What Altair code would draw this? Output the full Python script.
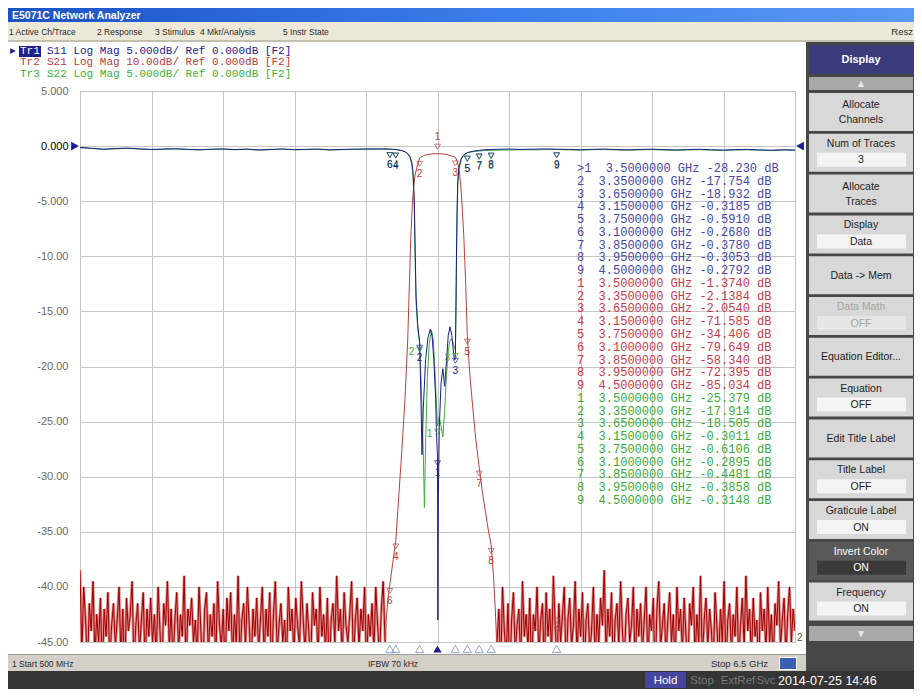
import altair as alt
import numpy as np
import pandas as pd

# plot area origin (screen px) and size
OX, OY = 80, 91
W, H = 715, 551
F_START, F_STOP = 0.5, 6.5          # GHz
Y_MIN, Y_MAX = -45, 5               # display scale (5 dB/div, ref 0 dB)

# ---------------- trace data ----------------
flat_left_f = [0.5, 0.6, 0.7, 0.8, 0.9, 1.0, 1.1, 1.2, 1.3, 1.4, 1.5, 1.6, 1.7,
               1.8, 1.9, 2.0, 2.1, 2.2, 2.3, 2.4, 2.5, 2.6, 2.7, 2.8, 2.9, 3.0]
flat_right_f = [4.0, 4.1, 4.2, 4.3, 4.4, 4.5, 4.6, 4.7, 4.8, 4.9, 5.0, 5.1, 5.2,
                5.3, 5.4, 5.5, 5.6, 5.7, 5.8, 5.9, 6.0, 6.1, 6.2, 6.3, 6.4, 6.5]

# S11 (dB)
s11_left = [-0.12, -0.20, -0.28, -0.22, -0.18, -0.25, -0.30, -0.27, -0.24, -0.29, -0.33, -0.28, -0.26,
            -0.31, -0.27, -0.35, -0.30, -0.26, -0.32, -0.29, -0.27, -0.34, -0.30, -0.28, -0.26, -0.25]
s11_band_f = [3.05, 3.1, 3.15, 3.2, 3.23, 3.25, 3.27, 3.285, 3.295, 3.305, 3.31, 3.315,
              3.32, 3.335, 3.35, 3.36, 3.37, 3.38, 3.40, 3.42, 3.44, 3.455, 3.47, 3.485,
              3.49, 3.497, 3.5, 3.503, 3.507, 3.515, 3.53, 3.545, 3.56, 3.575, 3.59, 3.605,
              3.62, 3.635, 3.645, 3.65, 3.655, 3.66, 3.665, 3.67, 3.68, 3.70, 3.72, 3.75,
              3.80, 3.85, 3.90, 3.95]
s11_band = [-0.26, -0.268, -0.3185, -0.40, -0.52, -0.68, -0.98, -1.5, -2.4, -4.8, -7.8, -10.8,
            -13.6, -16.4, -17.754, -22.5, -28.0, -24.0, -19.4, -17.4, -16.6, -17.3, -19.6, -23.0,
            -25.5, -27.5, -28.23, -43.0, -32.0, -25.5, -21.5, -20.2, -21.8, -19.6, -17.2, -16.4,
            -17.2, -18.8, -19.4, -18.932, -14.5, -9.0, -5.5, -3.2, -1.9, -1.1, -0.8, -0.591,
            -0.46, -0.378, -0.33, -0.3053]
s11_right = [-0.29, -0.27, -0.30, -0.28, -0.26, -0.2792, -0.30, -0.33, -0.29, -0.27, -0.31, -0.34, -0.30,
             -0.28, -0.32, -0.35, -0.31, -0.29, -0.33, -0.36, -0.32, -0.30, -0.34, -0.37, -0.33, -0.35]

# S22 (dB)
s22_left = [-0.15, -0.22, -0.30, -0.25, -0.21, -0.27, -0.32, -0.29, -0.26, -0.31, -0.35, -0.30, -0.28,
            -0.33, -0.29, -0.37, -0.32, -0.28, -0.34, -0.31, -0.29, -0.36, -0.32, -0.30, -0.29, -0.28]
s22_band_f = [3.05, 3.1, 3.15, 3.2, 3.23, 3.25, 3.27, 3.285, 3.295, 3.305, 3.31, 3.315,
              3.32, 3.335, 3.35, 3.365, 3.38, 3.39, 3.40, 3.415, 3.43, 3.45, 3.465, 3.48,
              3.495, 3.5, 3.515, 3.53, 3.545, 3.56, 3.575, 3.59, 3.605, 3.62, 3.635, 3.65,
              3.655, 3.66, 3.665, 3.67, 3.68, 3.70, 3.72, 3.75, 3.80, 3.85, 3.90, 3.95]
s22_band = [-0.28, -0.2895, -0.3011, -0.42, -0.55, -0.72, -1.05, -1.7, -2.8, -5.5, -8.6, -11.6,
            -14.2, -16.6, -17.914, -22.0, -27.5, -32.8, -27.0, -21.0, -18.0, -16.7, -17.6, -20.6,
            -24.3, -25.379, -24.6, -25.4, -26.4, -24.0, -20.8, -18.6, -17.6, -17.5, -18.0, -18.505,
            -14.8, -9.6, -6.0, -3.6, -2.1, -1.2, -0.85, -0.6106, -0.50, -0.4481, -0.40, -0.3858]
s22_right = [-0.37, -0.35, -0.33, -0.34, -0.32, -0.3148, -0.34, -0.37, -0.33, -0.31, -0.35, -0.38, -0.34,
             -0.32, -0.36, -0.39, -0.35, -0.33, -0.37, -0.40, -0.36, -0.34, -0.38, -0.41, -0.37, -0.39]

# S21 (dB, 10 dB/div)
s21_band_f = [3.06, 3.07, 3.085, 3.1, 3.125, 3.15, 3.175, 3.2, 3.227, 3.25, 3.265, 3.275,
              3.29, 3.30, 3.31, 3.327, 3.35, 3.38, 3.42, 3.46, 3.5, 3.54, 3.58, 3.62,
              3.65, 3.665, 3.683, 3.70, 3.72, 3.735, 3.75, 3.77, 3.79, 3.82, 3.85, 3.875,
              3.90, 3.925, 3.95, 3.97, 3.985, 4.0]
s21_band = [-92, -86, -82, -79.649, -75.5, -71.585, -63.5, -55.5, -46, -35.2, -24.5, -17,
            -10, -7.5, -5.5, -3.8, -2.1384, -1.75, -1.5, -1.4, -1.374, -1.42, -1.55, -1.8,
            -2.054, -2.7, -4.4, -8.5, -16, -24, -34.406, -41, -46, -53, -58.34, -62.5,
            -66, -69.5, -72.395, -78, -84, -92]
s21_noise_left = [
    -77, -92, -80, -86, -95, -83, -88, -79, -93, -85, -90, -82, -96, -84, -89, -81, -94, -87, -83, -91,
    -86, -80, -93, -84, -97, -82, -88, -85, -79, -94, -87, -83, -92, -86, -81, -95, -84, -89, -82, -90,
    -85, -93, -80, -88, -96, -83, -87, -79, -91, -84, -94, -86, -81, -92, -85, -89, -78, -95, -84, -87,
    -82, -90, -86, -93, -80, -88, -97, -84, -81, -92, -85, -89, -83, -94, -79, -87, -91, -84, -96, -82,
    -88, -81, -93, -85, -90, -78, -94, -86, -83, -91, -80, -87, -95, -84, -89, -82, -92, -86, -80, -93,
    -84, -89, -81, -96, -85, -79, -92, -87, -83, -90, -86, -94, -80, -88, -84, -93, -82, -87, -91, -79,
    -86, -92, -83, -88, -95, -81, -87, -84, -93, -80, -89, -85, -92, -82, -97, -86, -83, -90, -78, -88,
    -84, -93, -81, -87, -90, -85, -79, -94, -86, -82, -91, -84, -88, -80, -95, -85, -89, -83, -92, -80,
    -87, -93, -84, -79, -90]
s21_noise_right = [
    -90, -84, -95, -80, -88, -93, -83, -97, -86, -81, -92, -87, -84, -94, -79, -89, -85, -91, -82, -96,
    -85, -88, -80, -93, -86, -83, -95, -81, -89, -84, -92, -78, -87, -94, -83, -90, -85, -80, -96, -86,
    -82, -91, -87, -79, -93, -84, -89, -81, -95, -86, -83, -92, -88, -80, -94, -85, -90, -82, -87, -77,
    -93, -84, -89, -81, -96, -86, -83, -91, -79, -88, -94, -85, -82, -90, -87, -80, -95, -84, -89, -83,
    -92, -86, -80, -94, -85, -88, -82, -97, -84, -79, -91, -87, -83, -93, -86, -81, -90, -85, -95, -80,
    -88, -84, -92, -82, -89, -96, -83, -87, -80, -93, -85, -90, -78, -94, -86, -82, -91, -84, -88, -95,
    -81, -87, -93, -84, -90, -79, -95, -86, -83, -92, -85, -89, -80, -94, -87, -82, -91, -78, -88, -84,
    -93, -82, -89, -86, -96, -81, -88, -84, -92, -80, -90, -85, -94, -83, -87, -79, -91, -86, -82, -93,
    -85, -80, -90, -84, -88]
noise_left_f = np.linspace(0.5, 3.06, len(s21_noise_left))
noise_right_f = np.linspace(4.0, 6.5, len(s21_noise_right))

# markers
mk_n = [1, 2, 3, 4, 5, 6, 7, 8, 9]
mk_f = [3.5, 3.35, 3.65, 3.15, 3.75, 3.1, 3.85, 3.95, 4.5]
mk_s11 = ["-28.230", "-17.754", "-18.932", "-0.3185", "-0.5910", "-0.2680", "-0.3780", "-0.3053", "-0.2792"]
mk_s21 = ["-1.3740", "-2.1384", "-2.0540", "-71.585", "-34.406", "-79.649", "-58.340", "-72.395", "-85.034"]
mk_s22 = ["-25.379", "-17.914", "-18.505", "-0.3011", "-0.6106", "-0.2895", "-0.4481", "-0.3858", "-0.3148"]

C_S11, C_S21, C_S22 = "#1c1c8e", "#b84040", "#3caf3c"
C_S11_T, C_S21_T, C_S22_T = "#4646a6", "#c63a4c", "#3aaa3a"

legend_tr = ["Tr1", "Tr2", "Tr3"]
legend_rest = ["S11 Log Mag 5.000dB/ Ref 0.000dB [F2]",
               "S21 Log Mag 10.00dB/ Ref 0.000dB [F2]",
               "S22 Log Mag 5.000dB/ Ref 0.000dB [F2]"]
menu_items = ["1 Active Ch/Trace", "2 Response", "3 Stimulus", "4 Mkr/Analysis", "5 Instr State"]
softkeys = [("Allocate|Channels", None), ("Num of Traces", "3"), ("Allocate|Traces", None),
            ("Display", "Data"), ("Data -> Mem", None), ("Data Math", "OFF"),
            ("Equation Editor...", None), ("Equation", "OFF"), ("Edit Title Label", None),
            ("Title Label", "OFF"), ("Graticule Label", "ON"), ("Invert Color", "ON"),
            ("Frequency", "ON")]

NB = "\u00a0"

# ---------------- scales / axes ----------------
grid_x = [round(F_START + 0.6 * k, 2) for k in range(11)]
xs = alt.Scale(domain=[F_START, F_STOP], nice=False, zero=False)
ys = alt.Scale(domain=[Y_MIN, Y_MAX], nice=False, zero=False)
xax = alt.Axis(values=grid_x, grid=True, labels=False, ticks=False, domain=False, title=None)
yax = alt.Axis(values=list(range(-45, 6, 5)), grid=True, ticks=False, domain=False, title=None,
               labelPadding=12, labelFont="Liberation Sans", labelFontSize=11,
               labelExpr="(datum.value < 0 ? '-' : '') + (abs(datum.value) < 10 ? format(abs(datum.value), '.3f') : format(abs(datum.value), '.2f'))",
               labelColor=alt.condition("datum.value == 0", alt.value("#000000"), alt.value("#6a6a6a")))


def X():
    return alt.X("f:Q", scale=xs, axis=xax)


def Y():
    return alt.Y("v:Q", scale=ys, axis=yax)


def px_rects(rows):
    df = pd.DataFrame(rows, columns=["x0", "x1", "y0", "y1", "fill"])
    df["x0"] = df["x0"] - OX
    df["x1"] = df["x1"] - OX
    df["y0"] = df["y0"] - OY
    df["y1"] = df["y1"] - OY
    return alt.Chart(df).mark_rect().encode(
        x=alt.X("x0:Q", scale=None), x2=alt.X2("x1"),
        y=alt.Y("y0:Q", scale=None), y2=alt.Y2("y1"),
        color=alt.Color("fill:N", scale=None))


def px_text(rows, size, font="Liberation Sans", weight="normal", align="left"):
    df = pd.DataFrame(rows, columns=["x", "y", "t", "c"])
    df["x"] = df["x"] - OX
    df["y"] = df["y"] - OY
    return alt.Chart(df).mark_text(font=font, fontSize=size, fontWeight=weight, align=align,
                                   baseline="middle").encode(
        x=alt.X("x:Q", scale=None), y=alt.Y("y:Q", scale=None),
        text=alt.Text("t:N"), color=alt.Color("c:N", scale=None))


# ---------------- window chrome ----------------
title_df = pd.DataFrame([{"x0": 8 - OX, "x1": 914 - OX, "y0": 8 - OY, "y1": 22 - OY}])
title_bar = alt.Chart(title_df).mark_rect(
    color=alt.LinearGradient(gradient="linear", x1=0, x2=1, y1=0, y2=0,
                             stops=[alt.GradientStop(color="#1b53c4", offset=0),
                                    alt.GradientStop(color="#3f82ee", offset=0.6),
                                    alt.GradientStop(color="#5a98f4", offset=1)])
).encode(x=alt.X("x0:Q", scale=None), x2=alt.X2("x1"),
         y=alt.Y("y0:Q", scale=None), y2=alt.Y2("y1"))

rects = [
    (8, 914, 22, 40, "#ece9d8"),
    (8, 914, 40, 42, "#c4c0b0"),
    (806, 914, 42, 671, "#474747"),
    (809, 913, 45, 74, "#3b3b7c"),
    (809, 913, 77, 90, "#a8a8a8"),
    (809, 913, 626, 641, "#a8a8a8"),
    (8, 806, 654, 655, "#9c9c9c"),
    (8, 806, 655, 671, "#d4d0c8"),
    (779, 797, 657, 670, "#ffffff"),
    (780, 796, 658, 669, "#3a5fb0"),
    (8, 914, 671, 689, "#353535"),
    (645, 686, 672, 688, "#46469e"),
    (19, 41, 46, 57, "#1e1e8c"),
]
ui_center = [(861, 59.5, "Display", "#ffffff")]
ui_center_small = [(861, 83.5, "\u25b2", "#e6e6e6"), (861, 633.5, "\u25bc", "#e6e6e6")]
for i, (lab, val) in enumerate(softkeys):
    y0 = 93 + i * 40.8
    inv = lab == "Invert Color"
    dis = lab == "Data Math"
    rects.append((809, 913, y0, y0 + 38, "#595959" if inv else "#d8d8d8"))
    tc = "#ffffff" if inv else ("#a4a4a4" if dis else "#1e1e1e")
    if val is not None:
        rects.append((817, 906, y0 + 19, y0 + 33, "#3a3a3a" if inv else ("#e6e6e6" if dis else "#f4f4f4")))
        ui_center_small.append((861, y0 + 10, lab, tc))
        ui_center_small.append((861, y0 + 26.5, val, tc))
    elif "|" in lab:
        a, b = lab.split("|")
        ui_center_small.append((861, y0 + 12, a, tc))
        ui_center_small.append((861, y0 + 27, b, tc))
    else:
        ui_center_small.append((861, y0 + 19.5, lab, tc))

menu_x = [9, 97, 155, 200, 283]
ui_left = [(mx, 31.5, m, "#2a2a2a") for mx, m in zip(menu_x, menu_items)]
ui_left += [(12, 663.5, "1 Start 500 MHz", "#2a2a2a"), (368, 663.5, "IFBW 70 kHz", "#2a2a2a")]
ui_right = [(913, 31.5, "Resz", "#2a2a2a"), (768, 663.5, "Stop 6.5 GHz", "#2a2a2a")]
bottom_c = [(665.5, 680.5, "Hold", "#ffffff"), (702, 680.5, "Stop", "#7a7a7a"),
            (738, 680.5, "ExtRef", "#7a7a7a"), (766, 680.5, "Svc", "#7a7a7a")]
bottom_l = [(778, 680.5, "2014-07-25 14:46", "#ffffff")]

# legend (monospace)
leg_y = [51.0, 62.3, 73.6]
leg_cols = [C_S11, C_S21, C_S22]
mono_leg = []
for k in range(3):
    mono_leg.append((20, leg_y[k], legend_tr[k], "#ffffff" if k == 0 else leg_cols[k]))
    mono_leg.append((47, leg_y[k], legend_rest[k].replace(" ", NB), leg_cols[k]))

# marker table (monospace)
mono_tab = []
row = 0
for vals, col, tr in [(mk_s11, C_S11_T, 1), (mk_s21, C_S21_T, 2), (mk_s22, C_S22_T, 3)]:
    for n, f, v in zip(mk_n, mk_f, vals):
        pre = ">" if (tr == 1 and n == 1) else " "
        s = f"{pre}{n}  {f:.7f} GHz {v:>7} dB"
        mono_tab.append((577, 168 + row * 12.77, s.replace(" ", NB), col))
        row += 1

# ---------------- trace layers ----------------
noise_df = pd.DataFrame({
    "f": list(noise_left_f) + list(noise_right_f),
    "db": s21_noise_left + s21_noise_right,
    "seg": ["L"] * len(s21_noise_left) + ["R"] * len(s21_noise_right)})
band21_df = pd.DataFrame({"f": s21_band_f, "db": s21_band})
s11_df = pd.DataFrame({"f": flat_left_f + s11_band_f + flat_right_f, "v": s11_left + s11_band + s11_right})
s22_df = pd.DataFrame({"f": flat_left_f + s22_band_f + flat_right_f, "v": s22_left + s22_band + s22_right})

noise_pink = alt.Chart(noise_df).transform_calculate(v="datum.db / 2").mark_line(
    color="#e48c8c", strokeWidth=2.8, clip=True).encode(x=X(), y=Y(), detail="seg:N")
noise_dark = alt.Chart(noise_df).transform_calculate(v="datum.db / 2").mark_line(
    color="#9c0000", strokeWidth=1, clip=True).encode(x=X(), y=Y(), detail="seg:N")
band21 = alt.Chart(band21_df).transform_calculate(v="datum.db / 2").mark_line(
    color=C_S21, strokeWidth=1, clip=True).encode(x=X(), y=Y())
line22 = alt.Chart(s22_df).mark_line(color=C_S22, strokeWidth=1, clip=True).encode(x=X(), y=Y())
line11 = alt.Chart(s11_df).mark_line(color=C_S11, strokeWidth=1, clip=True).encode(x=X(), y=Y())

mk_rows = []
for vals, col, tr in [(mk_s22, C_S22, 3), (mk_s21, C_S21, 2), (mk_s11, C_S11, 1)]:
    for n, f, v in zip(mk_n, mk_f, vals):
        val = float(v) / 2 if tr == 2 else float(v)
        if tr == 2 and n == 1:
            pos = "above"
        elif tr == 3 and n <= 3:
            pos = "side"
        else:
            pos = "below"
        mk_rows.append({"f": f, "v": val, "n": str(n), "c": col, "pos": pos})
mk_df = pd.DataFrame(mk_rows)
mk_below = alt.Chart(mk_df).transform_filter("datum.pos != 'above'")
mk_blab = alt.Chart(mk_df).transform_filter("datum.pos == 'below'")
mk_side = alt.Chart(mk_df).transform_filter("datum.pos == 'side'")
mk_above = alt.Chart(mk_df).transform_filter("datum.pos == 'above'")
mk_sym_b = mk_below.mark_point(shape="triangle-down", filled=False, size=34, strokeWidth=1,
                               yOffset=6).encode(x=X(), y=Y(), stroke=alt.Stroke("c:N", scale=None))
mk_lab_b = mk_blab.mark_text(font="Liberation Sans", fontSize=10, yOffset=16).encode(
    x=X(), y=Y(), text="n:N", color=alt.Color("c:N", scale=None))
mk_lab_s = mk_side.mark_text(font="Liberation Sans", fontSize=10, yOffset=8, xOffset=-8).encode(
    x=X(), y=Y(), text="n:N", color=alt.Color("c:N", scale=None))
mk_sym_a = mk_above.mark_point(shape="triangle-down", filled=False, size=34, strokeWidth=1,
                               yOffset=-7).encode(x=X(), y=Y(), stroke=alt.Stroke("c:N", scale=None))
mk_lab_a = mk_above.mark_text(font="Liberation Sans", fontSize=10, yOffset=-17).encode(
    x=X(), y=Y(), text="n:N", color=alt.Color("c:N", scale=None))

bot_df = pd.DataFrame({"f": mk_f, "active": [n == 1 for n in mk_n]})
bot_open = alt.Chart(bot_df).transform_filter("!datum.active").mark_point(
    shape="triangle-up", filled=False, size=70, stroke="#6f7fc0", strokeWidth=1).encode(
    x=X(), y=alt.value(H + 7))
bot_fill = alt.Chart(bot_df).transform_filter("datum.active").mark_point(
    shape="triangle-up", filled=True, size=70, color="#1c1c8e", opacity=1).encode(
    x=X(), y=alt.value(H + 7))

ref_df = pd.DataFrame({"v": [0.0]})
ref_l = alt.Chart(ref_df).mark_point(shape="triangle-right", filled=True, size=80, color="#1c1c9a",
                                     opacity=1).encode(x=alt.value(-5), y=Y())
ref_r = alt.Chart(ref_df).mark_point(shape="triangle-left", filled=True, size=80, color="#1c1c9a",
                                     opacity=1).encode(x=alt.value(W + 5), y=Y())

end_lbl = px_text([(OX + W + 2, OY + H - 4, "2", "#555555")], 10)

layers = [
    title_bar,
    px_rects(rects),
    px_text([(12, 15.5, "E5071C Network Analyzer", "#ffffff")], 10.5, weight="bold"),
    px_text(ui_center, 11, weight="bold", align="center"),
    px_text(ui_center_small, 10.5, align="center"),
    px_text(ui_left, 8.5),
    px_text(ui_right, 9.5, align="right"),
    px_text(bottom_c, 11.5, align="center"),
    px_text(bottom_l, 12.5),
    px_text([(10, 51.0, "\u25b6", "#1e1e8c")], 7.5, font="DejaVu Sans"),
    noise_pink, noise_dark, band21, line22, line11,
    mk_sym_b, mk_lab_s, mk_lab_b, mk_sym_a, mk_lab_a,
    px_text(mono_leg, 11, font="Liberation Mono"),
    px_text(mono_tab, 12, font="Liberation Mono"),
    ref_l, ref_r, bot_open, bot_fill, end_lbl,
]

chart = alt.layer(*layers).properties(
    width=W, height=H, padding=0, background="white"
).configure_view(fill="white", stroke="#8c8c8c", strokeWidth=1).configure_axis(
    gridColor="#c6c6c6", gridWidth=1, gridOpacity=1)

chart.save("out.html", embed_options={"renderer": "svg", "actions": False})
